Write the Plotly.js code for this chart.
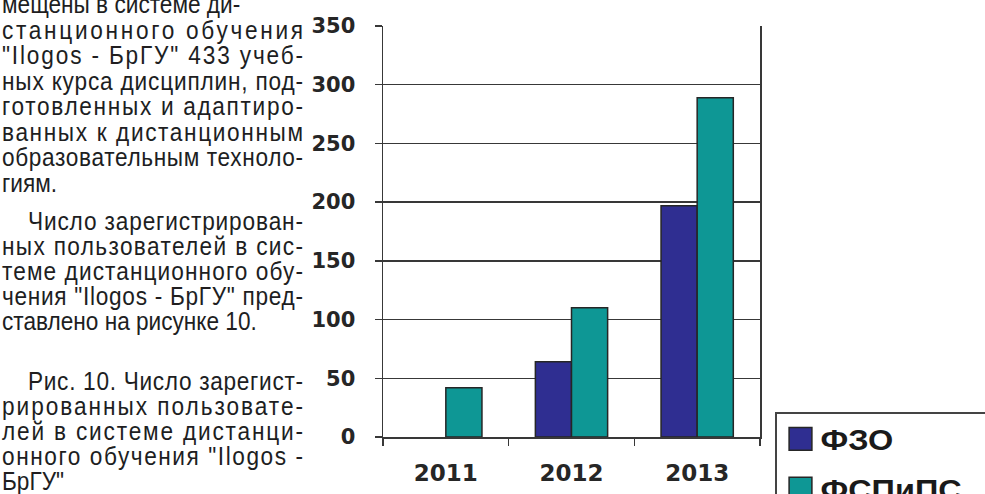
<!DOCTYPE html>
<html>
<head>
<meta charset="utf-8">
<script src="https://cdn.plot.ly/plotly-3.0.1.min.js"></script>
<style>
html,body{margin:0;padding:0;background:#ffffff;}
#chart{width:985px;height:494px;}
</style>
</head>
<body>
<div id="chart"></div>
<script>
// ---- chart data ----
const years = ['2011', '2012', '2013'];
const fzoValues = [null, 64, 197];
const fspipsValues = [42, 110, 289];
const seriesNames = ['ФЗО', 'ФСПиПС'];
const yTickValues = [0, 50, 100, 150, 200, 250, 300, 350];

// ---- surrounding page text (lines as in the source) ----
const para1Lines = [
  'мещены в системе ди-',
  'станционного обучения',
  '"Ilogos - БрГУ" 433 учеб-',
  'ных курса дисциплин, под-',
  'готовленных и адаптиро-',
  'ванных к дистанционным',
  'образовательным техноло-',
  'гиям.'
];
const para2Lines = [
  'Число зарегистрирован-',
  'ных пользователей в сис-',
  'теме дистанционного обу-',
  'чения "Ilogos - БрГУ" пред-',
  'ставлено на рисунке 10.'
];
const para3Lines = [
  'Рис. 10. Число зарегист-',
  'рированных пользовате-',
  'лей в системе дистанци-',
  'онного обучения "Ilogos -',
  'БрГУ"'
];

// ---- layout geometry (pixels) ----
const W = 985, H = 494;
const L = 383, R = 760, T = 26, B = 437;
const TXT_LEFT = 1, TXT_RIGHT = 302, INDENT = 26;
const TXT_SIZE = 25, TXT_SCALE = 0.905;
const TXT_FONT = 'Liberation Sans';
const TXT_COLOR = '#201e1f';

const para1Y = [4, 29.5, 55, 80.5, 106, 131.5, 157, 182.5];
const para2Y = [221, 246, 270.5, 295.5, 320.5];
const para3Y = [381, 406, 431, 456, 481];

const px2x = p => (p - L) / (R - L);
const px2y = p => (B - p) / (B - T);

const annotations = [];
const lineTargets = [];
function addLine(text, cy, indent, justify) {
  const x0 = TXT_LEFT + (indent ? INDENT : 0);
  annotations.push({
    xref: 'paper', yref: 'paper',
    x: px2x(x0), y: px2y(cy),
    xanchor: 'left', yanchor: 'middle', align: 'left',
    text: text, showarrow: false, borderpad: 0,
    font: {family: TXT_FONT, size: TXT_SIZE, color: TXT_COLOR}
  });
  lineTargets.push(justify ? (TXT_RIGHT - x0) : null);
}
function addPara(lines, ys, firstIndent, firstJustify) {
  lines.forEach((t, i) => {
    const last = i === lines.length - 1;
    const justify = last ? false : (i === 0 ? firstJustify : true);
    addLine(t, ys[i], i === 0 && firstIndent, justify);
  });
}
addPara(para1Lines, para1Y, false, false);
addPara(para2Lines, para2Y, true, true);
addPara(para3Lines, para3Y, true, true);

// ---- traces ----
const LINE_C = '#383838';
const traces = [
  {
    type: 'bar', name: seriesNames[0], x: years, y: fzoValues,
    marker: {color: '#2f2e91', line: {color: '#262626', width: 1.5}},
    legendgroup: 'a'
  },
  {
    type: 'bar', name: seriesNames[1], x: years, y: fspipsValues,
    marker: {color: '#0e9795', line: {color: '#262626', width: 1.5}},
    legendgroup: 'b'
  }
];

const layout = {
  width: W, height: H,
  margin: {l: L, r: W - R, t: T, b: H - B, autoexpand: false},
  paper_bgcolor: '#ffffff', plot_bgcolor: '#ffffff',
  barmode: 'group', bargap: 0.425, bargroupgap: 0,
  showlegend: true,
  legend: {
    x: px2x(775), xanchor: 'left',
    y: px2y(412), yanchor: 'top',
    orientation: 'v', traceorder: 'grouped',
    bgcolor: '#ffffff', bordercolor: '#444444', borderwidth: 1.5,
    font: {family: 'Liberation Sans', size: 29, weight: 'bold', color: '#1a1a1a'},
    tracegroupgap: 9
  },
  xaxis: {
    type: 'category', range: [-0.5, 2.5], fixedrange: true,
    tickson: 'boundaries', ticks: 'outside', ticklen: 7, tickwidth: 1.5, tickcolor: LINE_C,
    showline: true, linecolor: LINE_C, linewidth: 1.5, showgrid: false,
    tickfont: {family: 'DejaVu Sans', size: 23, weight: 'bold', color: '#262626'},
    ticklabelstandoff: 15
  },
  yaxis: {
    range: [0, 350], fixedrange: true, tickmode: 'array', tickvals: yTickValues,
    ticks: 'outside', ticklen: 7, tickwidth: 1.5, tickcolor: LINE_C,
    showline: true, mirror: true, linecolor: LINE_C, linewidth: 1.5,
    showgrid: true, gridcolor: LINE_C, gridwidth: 1.5, zeroline: false,
    tickfont: {family: 'DejaVu Sans', size: 21, weight: 'bold', color: '#262626'},
    ticklabelstandoff: 15
  },
  annotations: annotations
};

Plotly.newPlot('chart', traces, layout, {displayModeBar: false, staticPlot: true}).then(gd => {
  // narrow, justified print typesetting for the page text
  lineTargets.forEach((target, i) => {
    const t = gd.querySelector('.annotation[data-index="' + i + '"] text.annotation-text');
    if (!t) return;
    const x = parseFloat(t.getAttribute('x')) || 0;
    const natural = t.getComputedTextLength();
    const len = target ? target / TXT_SCALE : natural;
    t.setAttribute('textLength', len.toFixed(2));
    t.setAttribute('lengthAdjust', 'spacing');
    t.setAttribute('transform', 'translate(' + x + ',0) scale(' + TXT_SCALE + ',1) translate(' + (-x) + ',0)');
  });
  // legend: larger swatches, wider lettering, box running off the page edge as in the source
  gd.querySelectorAll('.legend .legendpoints path').forEach(p => {
    const tr = p.getAttribute('transform') || '';
    p.setAttribute('transform', tr + ' translate(4,0) scale(1.9)');
    p.style.strokeWidth = '0.8px';
  });
  gd.querySelectorAll('.legend text.legendtext').forEach(t => {
    const x = parseFloat(t.getAttribute('x')) || 0;
    t.setAttribute('transform', 'translate(' + (x + 4) + ',0) scale(1.12,1) translate(' + (-x) + ',0)');
  });
  gd.querySelectorAll('.legend [clip-path]').forEach(e => e.removeAttribute('clip-path'));
  const bg = gd.querySelector('.legend rect.bg');
  if (bg) bg.setAttribute('width', '400');
});
</script>
</body>
</html>
